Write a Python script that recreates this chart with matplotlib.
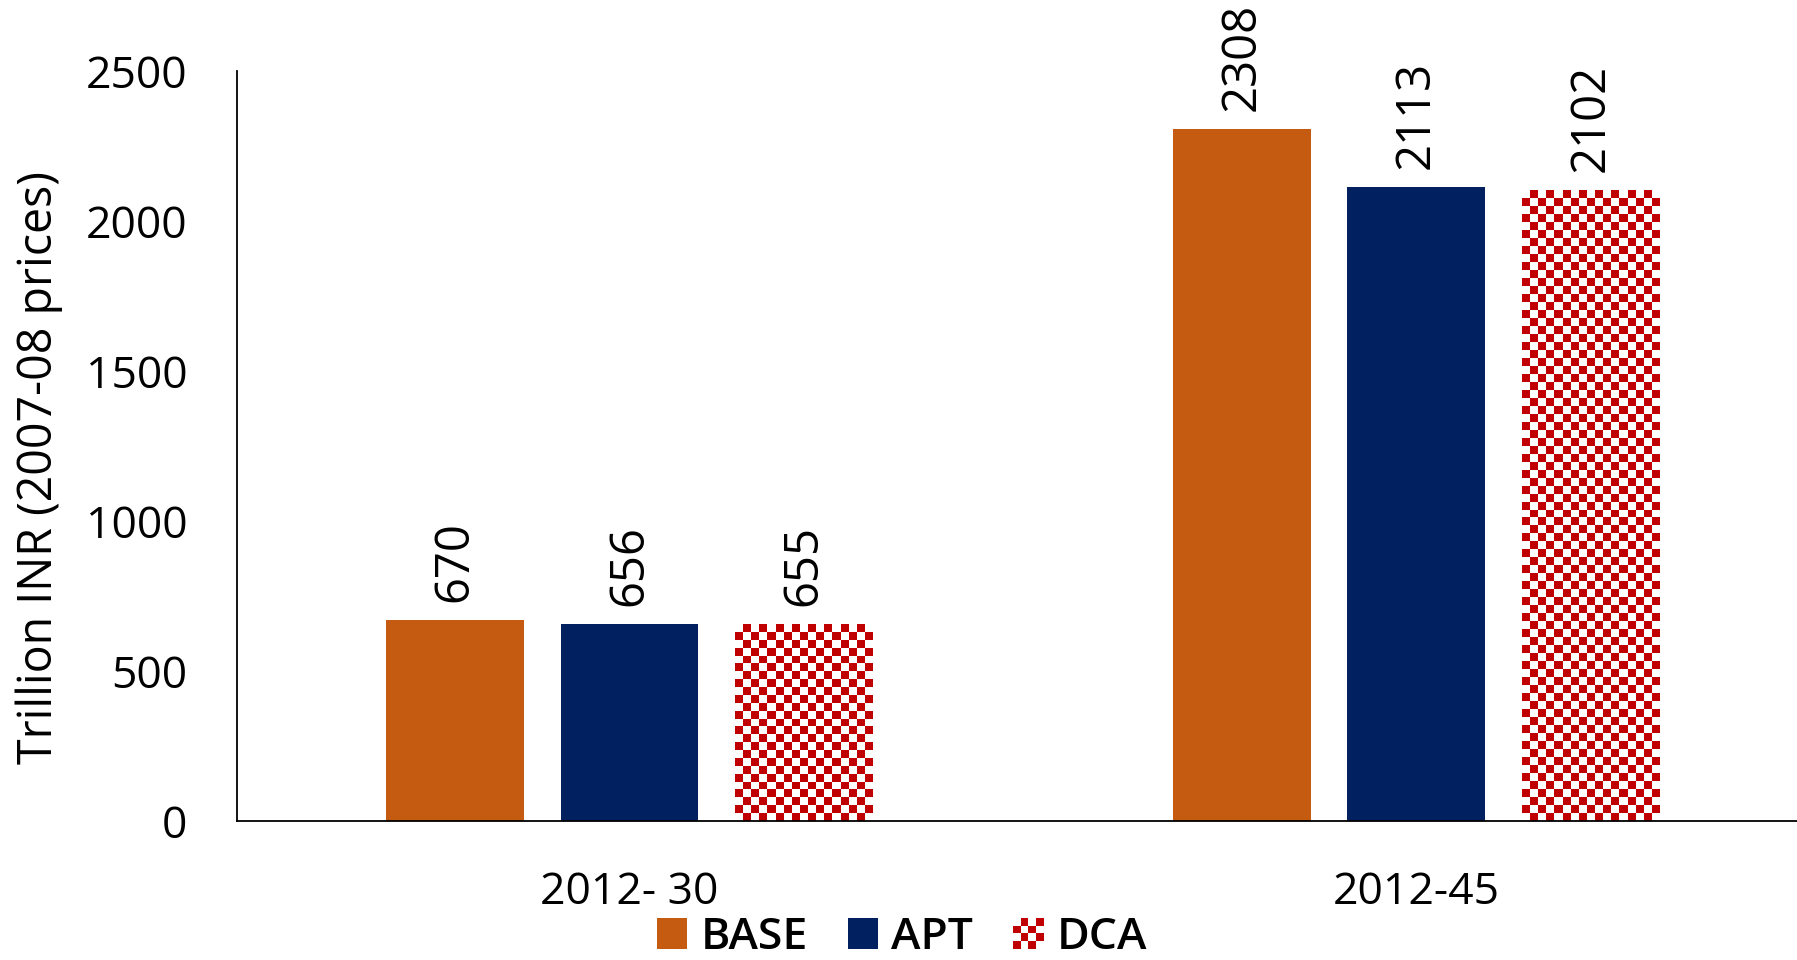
import numpy as np
import matplotlib.pyplot as plt
from matplotlib.colors import ListedColormap
from matplotlib.patches import Rectangle
from matplotlib.legend_handler import HandlerBase

plt.rcParams['font.family'] = ['Open Sans', 'DejaVu Sans']

# data
periods = ['2012- 30', '2012-45']
scenarios = ['BASE', 'APT', 'DCA']
base = [670, 2308]
apt = [656, 2113]
dca = [655, 2102]

colors = {'BASE': '#C55A11', 'APT': '#002060', 'DCA': '#C00000'}
checker_cmap = ListedColormap(['white', '#C00000'])
FS = 32


class CheckerHandler(HandlerBase):
    # little checkerboard for the DCA legend entry
    def create_artists(self, legend, orig_handle, xdescent, ydescent,
                       width, height, fontsize, trans):
        n = 4
        side = height
        x0 = xdescent + (width - side) / 2
        s = side / n
        arts = []
        for i in range(n):
            for j in range(n):
                c = '#C00000' if (i + j) % 2 == 0 else 'white'
                arts.append(Rectangle((x0 + i * s, -ydescent + j * s), s, s,
                                      facecolor=c, edgecolor='none', transform=trans))
        return arts


fig = plt.figure(figsize=(17.97, 9.6), dpi=100)
ax = fig.add_axes([0.132, 0.145, 0.868, 0.781])

x = np.arange(len(periods))
w = 0.175
step = 0.2216
xl = (-0.4985, 1.484)
ax.set_xlim(*xl)
ax.set_ylim(0, 2500)

b1 = ax.bar(x - step, base, w, color=colors['BASE'], label='BASE')
b2 = ax.bar(x, apt, w, color=colors['APT'], label='APT')
b3 = ax.bar(x + step, dca, w, color='white', label='DCA')

# checkerboard fill for DCA bars
sq = 8.0  # pixel size of one square
for bar in b3:
    x0, y0 = bar.get_x(), bar.get_y()
    bw, bh = bar.get_width(), bar.get_height()
    p0 = ax.transData.transform((x0, y0))
    p1 = ax.transData.transform((x0 + bw, y0 + bh))
    nx = max(1, int(round((p1[0] - p0[0]) / sq)))
    ny = max(1, int(round((p1[1] - p0[1]) / sq)))
    grid = (np.add.outer(np.arange(ny), np.arange(nx)) % 2).astype(float)
    im = ax.imshow(grid, cmap=checker_cmap, extent=(x0, x0 + bw, y0, y0 + bh),
                   origin='lower', aspect='auto', interpolation='nearest', zorder=2)
    im.set_clip_path(bar)

ax.set_xlim(*xl)
ax.set_ylim(0, 2500)

for bars, vals in [(b1, base), (b2, apt), (b3, dca)]:
    for bar, v in zip(bars, vals):
        ax.annotate(str(v), (bar.get_x() + bar.get_width() / 2, v),
                    xytext=(0, 13), textcoords='offset points',
                    rotation=90, ha='center', va='bottom', fontsize=34)

ax.set_xticks(x)
ax.set_xticklabels(periods)
ax.set_yticks(np.arange(0, 2501, 500))
ax.tick_params(axis='both', length=0, labelsize=FS)
ax.tick_params(axis='y', pad=36)
ax.tick_params(axis='x', pad=36)
ax.set_ylabel('Trillion INR (2007-08 prices)', fontsize=33.5)
ax.yaxis.set_label_coords(-0.112, 0.471)

for s in ['top', 'right']:
    ax.spines[s].set_visible(False)
ax.spines['left'].set_linewidth(1.3)
ax.spines['bottom'].set_linewidth(1.3)

handles = [b1, b2, Rectangle((0, 0), 1, 1)]
ax.legend(handles, scenarios, loc='lower center', bbox_to_anchor=(0.502, -0.022),
          bbox_transform=fig.transFigure, ncol=3, frameon=False,
          prop={'size': FS, 'weight': 'semibold'},
          borderpad=0.0, handlelength=0.68, handleheight=0.68, handletextpad=0.3,
          columnspacing=0.9, handler_map={Rectangle: CheckerHandler()})

fig.savefig('out.png', dpi=100)
